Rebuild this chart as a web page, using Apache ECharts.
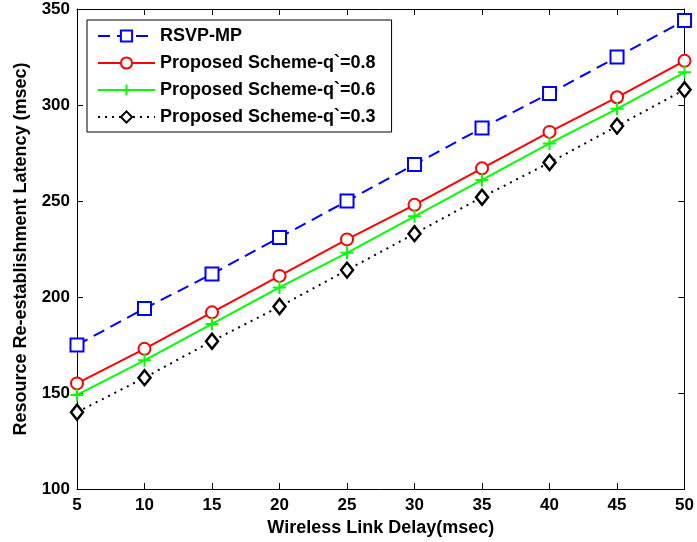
<!DOCTYPE html>
<html>
<head>
<meta charset="utf-8">
<script src="https://cdn.jsdelivr.net/npm/echarts@6/dist/echarts.min.js"></script>
<style>
  html, body { margin: 0; padding: 0; background: #fff; }
  #chart { width: 697px; height: 542px; }
</style>
</head>
<body>
<div id="chart"></div>
<script>
// link delay (msec)
var delays = [5, 10, 15, 20, 25, 30, 35, 40, 45, 50];
// latency values
var rsvpMp = [175, 194, 212, 231, 250, 269, 288, 306, 325, 344];
var q08 = [155, 173, 192, 211, 230, 248, 267, 286, 304, 323];
var q06 = [149, 167, 186, 205, 223, 242, 261, 280, 298, 317];
var q03 = [140, 158, 177, 195, 214, 233, 252, 270, 289, 308];
var seriesNames = ['RSVP-MP', 'Proposed Scheme-q`=0.8', 'Proposed Scheme-q`=0.6', 'Proposed Scheme-q`=0.3'];

function pairs(vals) {
    return delays.map(function (d, i) { return [d, vals[i]]; });
}

var font = 'Arial, "Liberation Sans", sans-serif';
var chart = echarts.init(document.getElementById('chart'));

var baseX = {
    type: 'value', min: 5, max: 50, interval: 5,
    splitLine: { show: false },
    axisLine: { lineStyle: { color: '#000', width: 1 } },
    axisTick: { inside: true, length: 6, lineStyle: { color: '#000' } }
};
var baseY = {
    type: 'value', min: 100, max: 350, interval: 50,
    splitLine: { show: false },
    axisLine: { show: true, lineStyle: { color: '#000', width: 1 } },
    axisTick: { show: true, inside: true, length: 6, lineStyle: { color: '#000' } }
};

var option = {
    animation: false,
    backgroundColor: '#fff',
    grid: { left: 77, right: 10, top: 9, bottom: 53 },
    legend: {
        orient: 'vertical',
        left: 87, top: 20,
        padding: [7, 16, 6, 10],
        itemGap: 9,
        itemWidth: 57,
        itemHeight: 14,
        borderColor: '#000',
        borderWidth: 1,
        backgroundColor: '#fff',
        textStyle: { fontFamily: font, fontWeight: 'bold', fontSize: 18, color: '#000' },
        data: seriesNames
    },
    xAxis: [
        Object.assign({}, baseX, {
            position: 'bottom',
            name: 'Wireless Link Delay(msec)',
            nameLocation: 'middle',
            nameGap: 27,
            nameTextStyle: { fontFamily: font, fontWeight: 'bold', fontSize: 18, color: '#000' },
            axisLabel: { fontFamily: font, fontWeight: 'bold', fontSize: 17, color: '#000', margin: 8 }
        }),
        Object.assign({}, baseX, { position: 'top', axisLabel: { show: false } })
    ],
    yAxis: [
        Object.assign({}, baseY, {
            position: 'left',
            name: 'Resource Re-establishment Latency (msec)',
            nameLocation: 'middle',
            nameGap: 47,
            nameTextStyle: { fontFamily: font, fontWeight: 'bold', fontSize: 18, color: '#000' },
            axisLabel: { fontFamily: font, fontWeight: 'bold', fontSize: 17, color: '#000', margin: 7 }
        }),
        Object.assign({}, baseY, { position: 'right', axisLabel: { show: false } })
    ],
    series: [
        {
            name: seriesNames[0], type: 'line', data: pairs(rsvpMp),
            symbol: 'rect', symbolSize: 13,
            lineStyle: { color: '#0000ff', width: 2, type: [12, 7] },
            itemStyle: { color: '#fff', borderColor: '#0000ff', borderWidth: 2 }
        },
        {
            name: seriesNames[1], type: 'line', data: pairs(q08),
            symbol: 'circle', symbolSize: 12,
            lineStyle: { color: '#ff0000', width: 2 },
            itemStyle: { color: '#fff', borderColor: '#ff0000', borderWidth: 2 }
        },
        {
            name: seriesNames[2], type: 'line', data: pairs(q06),
            symbol: 'path://M0,5 L10,5 M5,0 L5,10', symbolSize: 13,
            lineStyle: { color: '#00ff00', width: 2 },
            itemStyle: { color: '#00ff00', borderColor: '#00ff00', borderWidth: 2 }
        },
        {
            name: seriesNames[3], type: 'line', data: pairs(q03),
            symbol: 'diamond', symbolSize: [12, 15],
            lineStyle: { color: '#000', width: 2, type: [2, 5] },
            itemStyle: { color: '#fff', borderColor: '#000', borderWidth: 2.5 }
        }
    ]
};

chart.setOption(option);
</script>
</body>
</html>
